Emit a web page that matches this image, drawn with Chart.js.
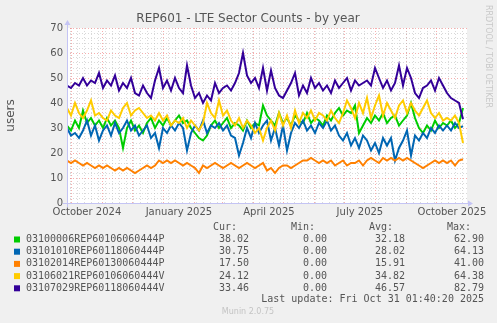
<!DOCTYPE html>
<html>
<head>
<meta charset="utf-8">
<script src="https://cdn.jsdelivr.net/npm/chart.js@4"></script>
<style>
  html, body { margin: 0; padding: 0; background: #f0f0f0; }
  canvas { display: block; }
</style>
</head>
<body>
<canvas id="myChart" width="497" height="323"></canvas>
<script>
// one sample every 4 days, day 0 = 26 Sep 2024 01:40
const stepDays = 4;
const seriesNames = [
  '03100006REP60106060444P',
  '03101010REP60118060444P',
  '03102014REP60130060444P',
  '03106021REP60106060444V',
  '03107029REP60118060444V'
];
const seriesColors = ['#00cc00', '#0066b3', '#ff8000', '#ffcc00', '#330099'];

const green = [
  31, 29, 33, 30, 37, 32, 34, 31, 33, 30, 34, 31, 33, 30, 22, 30, 33, 29, 31, 28,
  32, 34, 30, 33, 31, 34, 31, 33, 35, 32, 33, 30, 28, 26, 25, 27, 31, 33, 30, 32,
  34, 30, 32, 31, 29, 33, 30, 32, 31, 39, 35, 33, 31, 36, 32, 34, 31, 35, 33, 32,
  36, 32, 34, 33, 31, 35, 33, 36, 38, 35, 37, 36, 39, 28, 31, 34, 32, 35, 33, 36,
  32, 34, 35, 31, 33, 35, 40, 34, 30, 28, 31, 29, 33, 30, 32, 31, 33, 30, 32, 38
];
const blue = [
  30, 27, 28, 26, 29, 33, 27, 31, 25, 29, 31, 27, 32, 28, 30, 33, 29, 31, 27, 29,
  31, 26, 28, 22, 30, 28, 31, 29, 32, 30, 21, 28, 31, 29, 33, 28, 31, 30, 32, 29,
  31, 27, 26, 19, 24, 30, 26, 32, 28, 31, 33, 25, 30, 23, 31, 21, 28, 32, 30, 33,
  29, 31, 28, 32, 30, 33, 29, 31, 27, 25, 28, 23, 26, 22, 27, 25, 21, 24, 20, 26,
  23, 26, 17, 22, 25, 29, 19, 27, 25, 28, 26, 30, 28, 31, 29, 31, 29, 32, 30, 30.75
];
const orange = [
  17, 16, 17, 16, 15, 16, 15, 14, 15, 14, 15, 14, 13, 14, 13, 14, 13, 12, 13, 14,
  15, 14, 15, 17, 16, 17, 16, 17, 16, 15, 16, 15, 14, 12, 15, 14, 15, 16, 15, 14,
  15, 16, 15, 14, 15, 16, 15, 14, 15, 16, 13, 14, 12, 14, 15, 15, 14, 15, 16, 17,
  17, 18, 17, 16, 17, 16, 17, 15, 16, 17, 15, 16, 16, 17, 15, 17, 18, 17, 16, 18,
  17, 18, 17, 18, 17, 18, 17, 16, 15, 14, 15, 16, 17, 16, 17, 16, 17, 15, 17, 17.5
];
const yellow = [
  38, 35, 40, 36, 34, 37, 41, 35, 36, 34, 33, 37, 35, 34, 38, 40, 35, 37, 38, 36,
  34, 35, 33, 36, 33, 35, 31, 33, 32, 34, 30, 33, 31, 29, 32, 40, 36, 34, 41, 35,
  37, 33, 31, 34, 30, 33, 31, 28, 30, 25, 30, 33, 29, 36, 31, 35, 30, 37, 32, 36,
  34, 37, 33, 36, 35, 33, 37, 34, 32, 36, 41, 38, 34, 40, 36, 42, 34, 39, 43, 35,
  40, 37, 34, 39, 41, 36, 40, 37, 35, 38, 41, 36, 34, 36, 33, 34, 33, 35, 32, 24
];
const purple = [
  47, 46, 48, 47, 50, 47, 49, 48, 52, 46, 49, 47, 51, 45, 48, 46, 50, 44, 43, 47,
  44, 42, 49, 54, 46, 49, 45, 50, 46, 44, 55, 47, 42, 44, 40, 43, 41, 48, 44, 46,
  47, 45, 48, 52, 60, 51, 48, 50, 46, 54, 45, 53, 46, 43, 42, 45, 48, 52, 43, 47,
  44, 50, 46, 48, 45, 47, 44, 49, 46, 48, 50, 45, 49, 47, 48, 49, 47, 54, 50, 46,
  49, 45, 48, 55, 47, 54, 50, 44, 42, 46, 47, 49, 45, 50, 47, 44, 42, 41, 40, 33.5
];
const seriesValues = [green, blue, orange, yellow, purple];

const curValues = ['38.02', '30.75', '17.50', '24.12', '33.46'];
const minValues = ['0.00', '0.00', '0.00', '0.00', '0.00'];
const avgValues = ['32.18', '28.02', '15.91', '34.82', '46.57'];
const maxValues = ['62.90', '64.13', '41.00', '64.38', '82.79'];

// x axis: months with grid lines, quarter labels
const startTime = Date.UTC(2024, 8, 26, 1, 40);
const monthStarts = [
  [2024, 9], [2024, 10], [2024, 11], [2025, 0], [2025, 1], [2025, 2], [2025, 3],
  [2025, 4], [2025, 5], [2025, 6], [2025, 7], [2025, 8], [2025, 9]
];
const quarterLabels = [
  ['October 2024', 2024, 9], ['January 2025', 2025, 0], ['April 2025', 2025, 3],
  ['July 2025', 2025, 6], ['October 2025', 2025, 9]
];
const dayOf = (y, m, d) => (Date.UTC(y, m, d) - startTime) / 86400000;

const majorGrid = 'rgba(240, 120, 120, 0.6)';
const minorGrid = 'rgba(185, 185, 185, 0.55)';
const axisColor = '#c4c4f4';
const textColor = '#555555';

const bgPlugin = {
  id: 'bg',
  beforeDraw(chart) {
    const c = chart.ctx, a = chart.chartArea;
    c.save();
    c.fillStyle = '#f0f0f0';
    c.fillRect(0, 0, chart.width, chart.height);
    c.fillStyle = '#ffffff';
    c.fillRect(a.left, a.top, a.right - a.left, a.bottom - a.top);
    c.restore();
  }
};

const decoPlugin = {
  id: 'deco',
  afterDraw(chart) {
    const c = chart.ctx, a = chart.chartArea;
    c.save();
    // axes with arrows
    c.strokeStyle = axisColor;
    c.fillStyle = axisColor;
    c.lineWidth = 1;
    c.beginPath();
    c.moveTo(a.left - 4, a.bottom + 0.5);
    c.lineTo(a.right + 1, a.bottom + 0.5);
    c.moveTo(a.left + 0.5, a.bottom + 4);
    c.lineTo(a.left + 0.5, a.top - 3);
    c.stroke();
    c.beginPath();
    c.moveTo(a.right + 6, a.bottom + 0.5);
    c.lineTo(a.right + 1, a.bottom - 2.5);
    c.lineTo(a.right + 1, a.bottom + 3.5);
    c.closePath();
    c.fill();
    c.beginPath();
    c.moveTo(a.left + 0.5, a.top - 8);
    c.lineTo(a.left - 2.5, a.top - 3);
    c.lineTo(a.left + 3.5, a.top - 3);
    c.closePath();
    c.fill();

    // title
    c.fillStyle = textColor;
    c.font = '12px "DejaVu Sans"';
    c.textAlign = 'center';
    c.textBaseline = 'middle';
    c.fillText('REP601 - LTE Sector Counts - by year', 248, 19);

    // watermark on the right
    c.save();
    c.translate(488, 5);
    c.rotate(Math.PI / 2);
    c.fillStyle = '#c8c8c8';
    c.font = '8px "DejaVu Sans"';
    c.textAlign = 'left';
    c.fillText('RRDTOOL / TOBI OETIKER', 0, 0);
    c.restore();

    // legend
    c.font = '10px "DejaVu Sans Mono"';
    c.textBaseline = 'middle';
    c.fillStyle = textColor;
    c.textAlign = 'left';
    const headY = 227.5;
    c.fillText('Cur:', 213, headY);
    c.fillText('Min:', 291, headY);
    c.fillText('Avg:', 369, headY);
    c.fillText('Max:', 447, headY);
    seriesNames.forEach((name, i) => {
      const y = 239.5 + i * 12.2;
      c.fillStyle = seriesColors[i];
      c.fillRect(14, y - 3, 6, 6);
      c.fillStyle = textColor;
      c.textAlign = 'left';
      c.fillText(name, 26, y);
      c.textAlign = 'right';
      c.fillText(curValues[i], 249, y);
      c.fillText(minValues[i], 327, y);
      c.fillText(avgValues[i], 405, y);
      c.fillText(maxValues[i], 484, y);
    });
    c.textAlign = 'right';
    c.fillText('Last update: Fri Oct 31 01:40:20 2025', 484, 299.5);
    c.textAlign = 'center';
    c.fillStyle = '#c4c4c4';
    c.font = '8px "DejaVu Sans"';
    c.fillText('Munin 2.0.75', 248, 311.5);
    c.restore();
  }
};

const ctx = document.getElementById('myChart').getContext('2d');
new Chart(ctx, {
  type: 'line',
  data: {
    datasets: seriesNames.map((name, i) => ({
      label: name,
      data: seriesValues[i].map((v, j) => ({ x: j * stepDays, y: v })),
      borderColor: seriesColors[i],
      backgroundColor: seriesColors[i],
      borderWidth: 2,
      pointRadius: 0,
      tension: 0,
      order: seriesNames.length - i
    }))
  },
  options: {
    responsive: false,
    animation: false,
    layout: { padding: { top: 28, right: 30, left: 0, bottom: 0 } },
    plugins: { legend: { display: false }, tooltip: { enabled: false } },
    scales: {
      x: {
        type: 'linear',
        min: 0,
        max: 400,
        afterFit(scale) { scale.height = 120; },
        afterBuildTicks(scale) {
          const ticks = [];
          monthStarts.forEach(([y, m]) => ticks.push({ value: dayOf(y, m, 1), kind: 'major' }));
          for (let d = dayOf(2024, 8, 30); d < 400; d += 7) ticks.push({ value: d, kind: 'minor' });
          quarterLabels.forEach(([text, y, m]) => ticks.push({ value: dayOf(y, m, 16), kind: 'label', text }));
          scale.ticks = ticks.filter(t => t.value >= 0 && t.value <= 400).sort((p, q) => p.value - q.value);
        },
        grid: {
          drawTicks: false,
          color: (c) => c.tick && c.tick.kind === 'major' ? majorGrid : (c.tick && c.tick.kind === 'minor' ? minorGrid : 'rgba(0,0,0,0)'),
          lineWidth: 1
        },
        border: { display: false, dash: [1, 2] },
        ticks: {
          autoSkip: false,
          maxRotation: 0,
          padding: 3,
          color: textColor,
          font: { family: 'DejaVu Sans', size: 10 },
          callback: (v, i, ticks) => ticks[i].kind === 'label' ? ticks[i].text : ''
        }
      },
      y: {
        min: 0,
        max: 70,
        afterFit(scale) { scale.width = 67; },
        grid: {
          drawTicks: false,
          color: (c) => c.tick && c.tick.value % 10 === 0 ? majorGrid : minorGrid,
          lineWidth: 1
        },
        border: { display: false, dash: [1, 2] },
        ticks: {
          stepSize: 2,
          autoSkip: false,
          padding: 4,
          color: textColor,
          font: { family: 'DejaVu Sans', size: 10 },
          callback: (v) => v % 10 === 0 ? String(v) : ''
        },
        title: {
          display: true,
          text: 'users',
          color: textColor,
          padding: { top: 4 },
          font: { family: 'DejaVu Sans', size: 12 }
        }
      }
    }
  },
  plugins: [bgPlugin, decoPlugin]
});
</script>
</body>
</html>
